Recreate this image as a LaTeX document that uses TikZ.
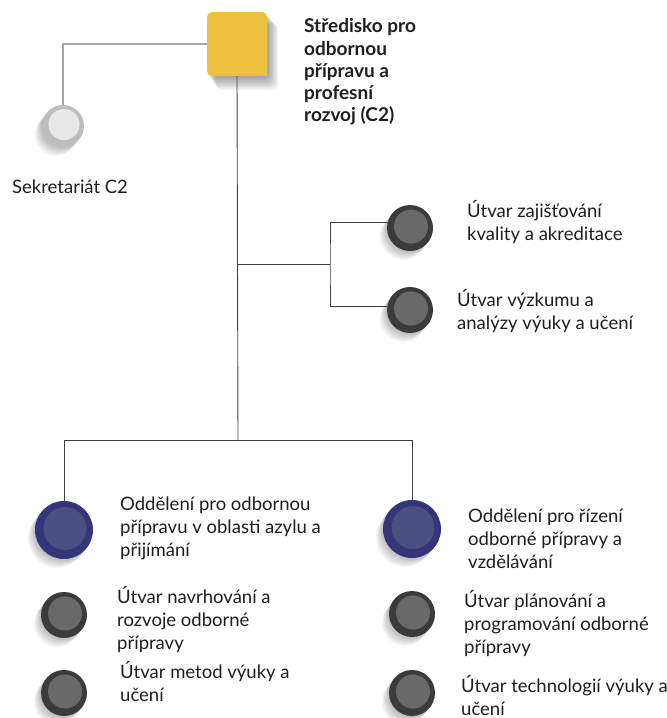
\documentclass[tikz,border=0pt]{standalone}
\usepackage{fontspec}
\setmainfont{Lato}
\definecolor{yel}{HTML}{EDC13F}
\definecolor{darkout}{HTML}{3B3B3B}
\definecolor{darkin}{HTML}{696969}
\definecolor{blueout}{HTML}{34357A}
\definecolor{bluein}{HTML}{4C5080}
\definecolor{greyout}{HTML}{BDBDBD}
\definecolor{greyin}{HTML}{E8E8E8}
\definecolor{txt}{HTML}{1E1E1E}
\tikzset{
  conn/.style={draw=black!75, line width=0.9pt},
  connlight/.style={draw=black!35, line width=1.4pt},
  lbl/.style={anchor=north west, inner sep=0pt, align=left, text=txt,
    font=\fontsize{18.5}{23}\selectfont, execute at begin node=\strut},
  ttl/.style={anchor=north west, inner sep=0pt, align=left, text=txt,
    font=\fontsize{19}{22.3}\selectfont\bfseries, execute at begin node=\strut},
  dot/.style={circle, inner sep=0pt, minimum size=#1}
}
% #1 name, #2 x, #3 y, #4 radius, #5 outer, #6 inner
\newcommand\orgdot[6]{%
  \foreach \k in {1,...,9}{\fill[black,opacity=0.03] (#2-\k*0.8,#3+\k*1.0) circle (#4);}
  \node[dot=2*#4, fill=#5] (#1) at (#2,#3) {};
  \fill[#6] (#2+1,#3-1.5) circle ({#4*0.74});
}
\begin{document}
\begin{tikzpicture}[x=1pt,y=-1pt]
\useasboundingbox (0,0) rectangle (667,718);
% headquarters square with soft shadow
\foreach \k in {1,...,10}{\fill[black,opacity=0.045,rounded corners=6]
  (207+\k*0.9,12+\k*1.2) rectangle (267+\k*1.1,76+\k*1.4);}
\node[fill=yel, rounded corners=5, minimum width=60, minimum height=64, inner sep=0pt] (hq) at (237,44) {};
\fill[yel] (hq.south east) rectangle ++(-6,-6);
\node[ttl] (hqt) at (304,18.4) {Středisko pro\\odbornou\\přípravu a\\profesní\\rozvoj (C2)};
% nodes
\orgdot{sek}{63}{126}{21}{greyout}{greyin}
\orgdot{q1}{410}{228}{23}{darkout}{darkin}
\orgdot{q2}{410}{310}{23}{darkout}{darkin}
\orgdot{bl}{64}{530}{29}{blueout}{bluein}
\orgdot{br}{412}{529}{29}{blueout}{bluein}
\orgdot{l2}{64}{615}{23}{darkout}{darkin}
\orgdot{l3}{64}{693}{23}{darkout}{darkin}
\orgdot{r2}{412}{614}{23}{darkout}{darkin}
\orgdot{r3}{412}{693}{23}{darkout}{darkin}
% connectors
\coordinate (j1) at (238,264);
\coordinate (b1) at (330,264);
\coordinate (j2) at (238,440);
\draw[connlight] (hq.west) -| (sek.north);
\draw[conn] (hq.south) -- (j2);
\draw[conn] (j1) -- (b1);
\draw[conn] (q1.165) -| (b1) |- (q2.170);
\draw[conn] (bl.north) -- (bl.north |- j2) -- (br.north |- j2) -- (br.north);
% labels
\node[lbl] (sekt) at (12,177) {Sekretariát C2};
\node[lbl] (q1t) at (467,200) {Útvar zajišťování\\kvality a akreditace};
\node[lbl] (q2t) at (457,289) {Útvar výzkumu a\\analýzy výuky a učení};
\node[lbl] (blt) at (120,497) {Oddělení pro odbornou\\přípravu v oblasti azylu a\\přijímání};
\node[lbl] (brt) at (468,509) {Oddělení pro řízení\\odborné přípravy a\\vzdělávání};
\node[lbl] (l2t) at (117,586) {Útvar navrhování a\\rozvoje odborné\\přípravy};
\node[lbl] (r2t) at (464,590) {Útvar plánování a\\programování odborné\\přípravy};
\node[lbl] (l3t) at (120,661) {Útvar metod výuky a\\učení};
\node[lbl] (r3t) at (461,675) {Útvar technologií výuky a\\učení};
\end{tikzpicture}
\end{document}
